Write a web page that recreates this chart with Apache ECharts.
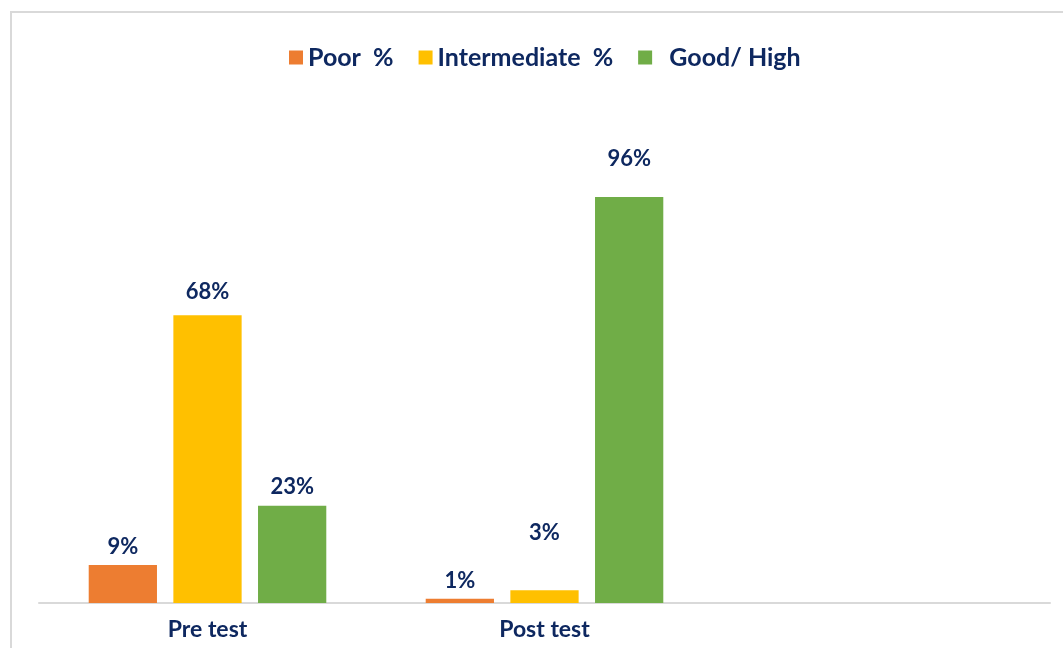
<!DOCTYPE html>
<html>
<head>
<meta charset="utf-8">
<script src="https://cdn.jsdelivr.net/npm/echarts@6/dist/echarts.min.js"></script>
<style>
  html, body { margin: 0; padding: 0; background: #fff; }
  #chart { width: 1063px; height: 648px; }
</style>
</head>
<body>
<div id="chart"></div>
<script>
// Test groups (third slot left empty on the axis)
const categories = ['Pre test', 'Post test', ''];

// Share of participants per knowledge level, in percent
const poor = [9, 1, null];
const intermediate = [68, 3, null];
const goodHigh = [23, 96, null];

const seriesNames = ['Poor  %', 'Intermediate  %', 'Good/ High'];

const textColor = '#0e2860';
const fontFamily = 'Lato, "Open Sans", sans-serif';

// Gap between each value label and the top of its bar, per series and group
const labelGaps = [
  [7, 7],
  [12, 46],
  [8, 27]
];

function barSeries(name, values, color, gaps) {
  return {
    name: name,
    type: 'bar',
    barGap: '24%',
    barCategoryGap: '29.5%',
    itemStyle: { color: color },
    data: values.map((v, i) => ({
      value: v,
      label: { distance: gaps[i] != null ? gaps[i] : 8 }
    })),
    label: {
      show: true,
      position: 'top',
      color: textColor,
      fontFamily: fontFamily,
      fontWeight: 'bold',
      fontSize: 22,
      formatter: p => (p.value == null ? '' : p.value + '%')
    }
  };
}

const chart = echarts.init(document.getElementById('chart'));
chart.setOption({
  animation: false,
  graphic: [{
    type: 'rect',
    shape: { x: 11, y: 12, width: 1070, height: 660 },
    style: { fill: 'none', stroke: '#d9d9d9', lineWidth: 2 },
    silent: true
  }],
  legend: {
    top: 40,
    left: 284,
    itemWidth: 14,
    itemHeight: 14,
    itemGap: 25,
    icon: 'rect',
    textStyle: {
      color: textColor,
      fontFamily: fontFamily,
      fontWeight: 'bold',
      fontSize: 25
    },
    formatter: name => (name === 'Good/ High' ? '  ' + name : name),
    data: seriesNames
  },
  grid: { left: 39, right: 13, top: 180, bottom: 45 },
  xAxis: {
    type: 'category',
    data: categories,
    axisLine: { lineStyle: { color: '#d9d9d9', width: 2 } },
    axisTick: { show: false },
    axisLabel: {
      margin: 15,
      color: textColor,
      fontFamily: fontFamily,
      fontWeight: 'bold',
      fontSize: 23
    }
  },
  yAxis: {
    type: 'value',
    min: 0,
    max: 100,
    show: false,
    splitLine: { show: false }
  },
  series: [
    barSeries(seriesNames[0], poor, '#ED7D31', labelGaps[0]),
    barSeries(seriesNames[1], intermediate, '#FFC000', labelGaps[1]),
    barSeries(seriesNames[2], goodHigh, '#70AD47', labelGaps[2])
  ]
});
</script>
</body>
</html>
